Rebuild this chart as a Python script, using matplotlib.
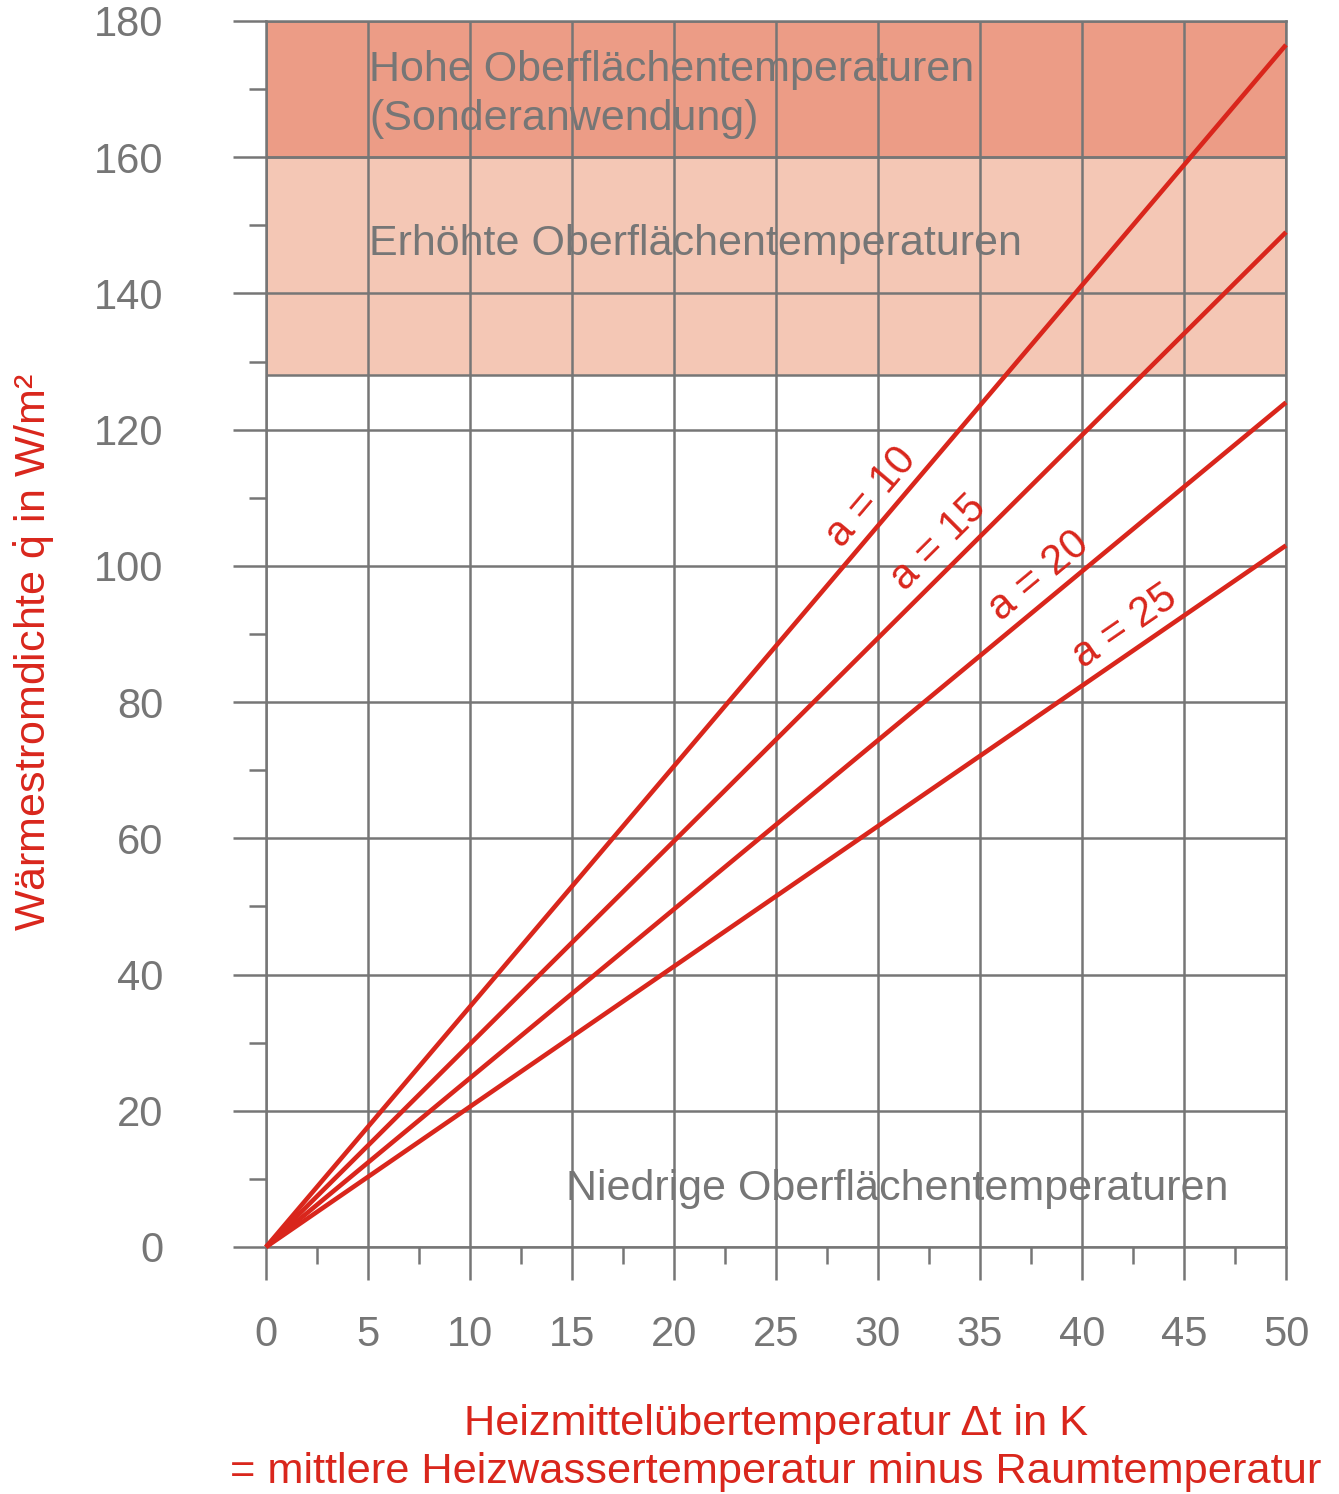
import numpy as np
import matplotlib.pyplot as plt
from matplotlib.ticker import MultipleLocator

plt.rcParams['font.family'] = ['Liberation Sans', 'DejaVu Sans']
plt.rcParams['mathtext.fontset'] = 'custom'
plt.rcParams['mathtext.rm'] = 'Liberation Sans'
plt.rcParams['mathtext.it'] = 'Liberation Sans'

GRAY = '#767676'
RED = '#d9261c'

# temperature difference (K) and heat flux (W/m²) at the ends of each curve
dt_points = [0, 50]
spacings = [10, 15, 20, 25]
q_a10 = [0, 176.5]
q_a15 = [0, 149]
q_a20 = [0, 124]
q_a25 = [0, 103]

# label anchors for the spacing curves
label_x = [29.7, 33.0, 37.9, 42.1]
label_y = [110.0, 103.4, 98.5, 91.0]

# surface temperature zones
zone_high = (160, 180)
zone_raised = (128, 160)

fig = plt.figure(figsize=(13.39, 14.94), dpi=100)
ax = fig.add_axes([266 / 1339, 1 - 1247 / 1494, 1020 / 1339, 1226 / 1494])

ax.axhspan(*zone_high, color='#ec9c86', zorder=0.5, lw=0)
ax.axhspan(*zone_raised, facecolor='#f4c7b5', edgecolor=GRAY, lw=1.8, zorder=0.5)

curves = [q_a10, q_a15, q_a20, q_a25]
for a, q, lx, ly in zip(spacings, curves, label_x, label_y):
    ax.plot(dt_points, q, color=RED, lw=3.3, solid_capstyle='butt', zorder=3, clip_on=False)
    ang = np.degrees(np.arctan2(q[1] - q[0], dt_points[1] - dt_points[0]))
    ax.text(lx, ly, f'a = {a}', color=RED, fontsize=30, rotation=ang,
            transform_rotates_text=True, rotation_mode='anchor',
            ha='center', va='center', zorder=4)

ax.text(5.05, 164.0, 'Hohe Oberflächentemperaturen\n(Sonderanwendung)',
        color=GRAY, fontsize=31, va='baseline', ha='left', linespacing=1.3, zorder=2)
ax.text(5.05, 145.6, 'Erhöhte Oberflächentemperaturen',
        color=GRAY, fontsize=31, va='baseline', ha='left', zorder=2)
ax.text(14.7, 6.9, 'Niedrige Oberflächentemperaturen',
        color=GRAY, fontsize=31, va='baseline', ha='left', zorder=2)

ax.set_xlim(0, 50)
ax.set_ylim(0, 180)
ax.xaxis.set_major_locator(MultipleLocator(5))
ax.xaxis.set_minor_locator(MultipleLocator(2.5))
ax.yaxis.set_major_locator(MultipleLocator(20))
ax.yaxis.set_minor_locator(MultipleLocator(10))

ax.grid(True, which='major', color=GRAY, lw=1.8, zorder=1.5)
ax.tick_params(which='major', length=24, width=1.8, color=GRAY,
               labelcolor=GRAY, labelsize=30)
ax.tick_params(axis='y', which='major', pad=50)
ax.tick_params(axis='x', which='major', pad=25)
ax.tick_params(which='minor', length=12, width=1.8, color=GRAY)

for s in ax.spines.values():
    s.set_color(GRAY)
    s.set_linewidth(1.8)

ax.set_xlabel('Heizmittelübertemperatur Δt in K\n= mittlere Heizwassertemperatur minus Raumtemperatur',
              color=RED, fontsize=31.2, linespacing=1.27)
ax.xaxis.set_label_coords(0.5, -0.128)
ax.xaxis.label.set_va('top')
ax.set_ylabel(r'Wärmestromdichte $\dot{\mathrm{q}}$ in W/m²', color=RED, fontsize=31)
ax.yaxis.set_label_coords(-0.205, 0.485)

fig.savefig('out.png', dpi=100)
